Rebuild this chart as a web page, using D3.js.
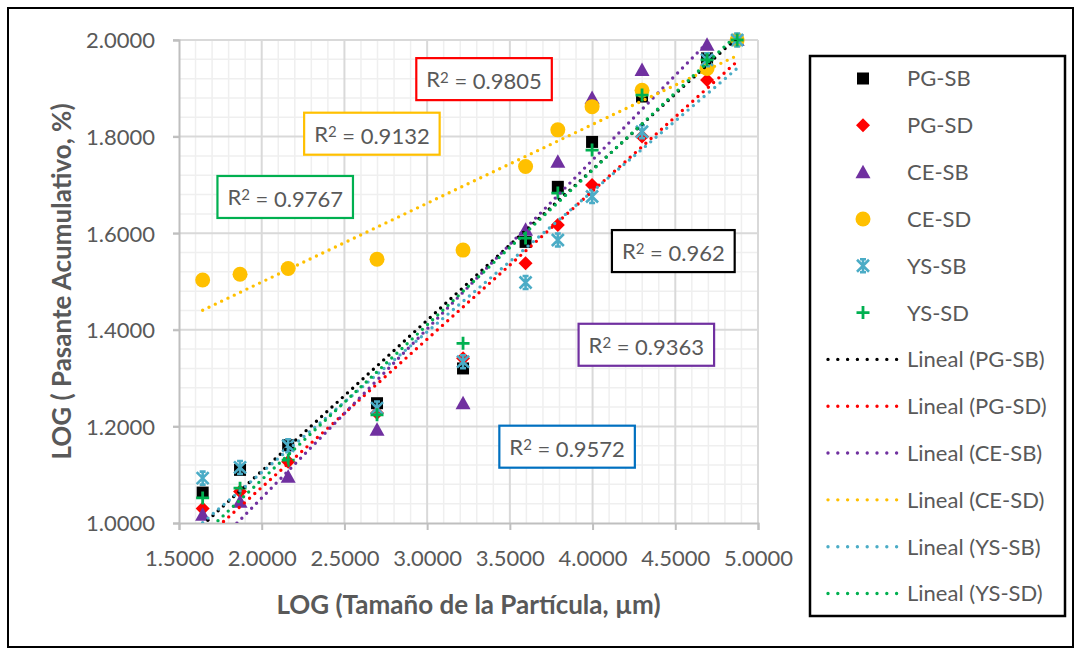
<!DOCTYPE html>
<html>
<head>
<meta charset="utf-8">
<script src="https://cdn.jsdelivr.net/npm/d3@7"></script>
<style>
  body { margin: 0; background: #fff; }
  svg { display: block; }
</style>
</head>
<body>
<div id="chart"></div>
<script>
// LOG particle size vs LOG cumulative passing, six samples + linear trendlines

const xLog = [1.643, 1.869, 2.160, 2.697, 3.217, 3.595, 3.790, 3.997, 4.299, 4.692, 4.874];

const pgSB = [1.063, 1.110, 1.161, 1.248, 1.320, 1.582, 1.696, 1.789, 1.883, 1.962, 2.000];
const pgSD = [1.030, 1.065, 1.127, 1.228, 1.341, 1.538, 1.617, 1.700, 1.800, 1.917, 2.000];
const ceSB = [1.017, 1.044, 1.096, 1.193, 1.248, 1.607, 1.748, 1.880, 1.938, 1.990, 2.000];
const ceSD = [1.503, 1.515, 1.527, 1.546, 1.565, 1.738, 1.814, 1.862, 1.896, 1.941, 2.000];
const ysSB = [1.093, 1.115, 1.160, 1.238, 1.334, 1.498, 1.586, 1.676, 1.810, 1.959, 2.000];
const ysSD = [1.052, 1.072, 1.130, 1.224, 1.372, 1.590, 1.683, 1.772, 1.886, 1.959, 2.000];

const seriesNames = ["PG-SB", "PG-SD", "CE-SB", "CE-SD", "YS-SB", "YS-SD"];
const seriesValues = [pgSB, pgSD, ceSB, ceSD, ysSB, ysSD];
const seriesColors = ["#000000", "#ff0000", "#7030a0", "#ffc000", "#4bacc6", "#00b050"];
const seriesShapes = ["square", "diamond", "triangle", "circle", "star", "plus"];

const xTicks = [1.5, 2.0, 2.5, 3.0, 3.5, 4.0, 4.5, 5.0];
const yTicks = [1.0, 1.2, 1.4, 1.6, 1.8, 2.0];

// R² labels as printed on the chart, anchored in data units
const r2Values = ["0.9805", "0.9132", "0.9767", "0.962", "0.9363", "0.9572"];
const r2Colors = ["#ff0000", "#ffc000", "#00b050", "#000000", "#7030a0", "#0070c0"];
const r2AnchorX = [3.344, 2.666, 2.142, 4.488, 4.325, 3.846];
const r2AnchorY = [1.919, 1.806, 1.675, 1.563, 1.369, 1.158];

const W = 1081, H = 655;
const margin = { left: 179, right: 323, top: 40, bottom: 132 };
const fontFam = "Lato, 'Open Sans', sans-serif";
const textGray = "#595959";

const svg = d3.select("#chart").append("svg")
    .attr("width", W)
    .attr("height", H);

svg.append("rect")
    .attr("x", 8).attr("y", 8)
    .attr("width", W - 16).attr("height", H - 16)
    .attr("fill", "#fff")
    .attr("stroke", "#000")
    .attr("stroke-width", 2);

const x = d3.scaleLinear().domain([1.5, 5.0]).range([margin.left, W - margin.right]);
const y = d3.scaleLinear().domain([1.0, 2.0]).range([H - margin.bottom, margin.top]);

// minor gridlines
const xMinor = d3.range(16, 50).map(d => d / 10).filter(d => !xTicks.some(t => Math.abs(t - d) < 1e-6));
const yMinor = d3.range(1, 25).map(d => 1 + d * 0.04).filter(d => d < 2 && !yTicks.some(t => Math.abs(t - d) < 1e-6));

const grid = svg.append("g");
grid.selectAll(".vminor").data(xMinor).join("line")
    .attr("x1", d => x(d)).attr("x2", d => x(d))
    .attr("y1", y(1)).attr("y2", y(2))
    .attr("stroke", "#efefef").attr("stroke-width", 1.5);
grid.selectAll(".hminor").data(yMinor).join("line")
    .attr("x1", x(1.5)).attr("x2", x(5))
    .attr("y1", d => y(d)).attr("y2", d => y(d))
    .attr("stroke", "#efefef").attr("stroke-width", 1.5);
grid.selectAll(".vmajor").data(xTicks.slice(1)).join("line")
    .attr("x1", d => x(d)).attr("x2", d => x(d))
    .attr("y1", y(1)).attr("y2", y(2))
    .attr("stroke", "#d9d9d9").attr("stroke-width", 2);
grid.selectAll(".hmajor").data(yTicks.slice(1)).join("line")
    .attr("x1", x(1.5) - 6).attr("x2", x(5))
    .attr("y1", d => y(d)).attr("y2", d => y(d))
    .attr("stroke", "#d9d9d9").attr("stroke-width", 2);

// axes
const xAxis = svg.append("g")
    .attr("transform", `translate(0,${y(1)})`)
    .call(d3.axisBottom(x).tickValues(xTicks).tickSize(7).tickFormat(d3.format(".4f")));
const yAxis = svg.append("g")
    .attr("transform", `translate(${x(1.5)},0)`)
    .call(d3.axisLeft(y).tickValues(yTicks).tickSize(6).tickFormat(d3.format(".4f")));

[xAxis, yAxis].forEach(a => {
    a.select(".domain").attr("stroke", "#bfbfbf").attr("stroke-width", 2);
    a.selectAll(".tick line").attr("stroke", "#bfbfbf").attr("stroke-width", 2);
    a.selectAll(".tick text")
        .attr("font-family", fontFam)
        .attr("font-size", "22px")
        .attr("fill", textGray);
});
xAxis.selectAll(".tick text").attr("y", 0).attr("dy", "43px");
yAxis.selectAll(".tick text").attr("x", -24).attr("dy", "0.36em");

svg.append("text")
    .attr("x", x(3.25))
    .attr("y", 614)
    .attr("text-anchor", "middle")
    .attr("font-family", fontFam)
    .attr("font-weight", "bold")
    .attr("font-size", "26px")
    .attr("fill", textGray)
    .text("LOG (Tamaño de la Partícula, µm)");

svg.append("text")
    .attr("transform", `translate(71,${y(1.5)}) rotate(-90)`)
    .attr("text-anchor", "middle")
    .attr("font-family", fontFam)
    .attr("font-weight", "bold")
    .attr("font-size", "26px")
    .attr("fill", textGray)
    .text("LOG ( Pasante Acumulativo, %)");

// marker drawing
function drawMarker(g, shape, color) {
    if (shape === "square") {
        g.append("rect").attr("x", -6).attr("y", -6).attr("width", 12).attr("height", 12).attr("fill", color);
    } else if (shape === "diamond") {
        g.append("path").attr("d", "M0,-7L7,0L0,7L-7,0Z").attr("fill", color);
    } else if (shape === "triangle") {
        g.append("path").attr("d", "M0,-7.5L7.5,6L-7.5,6Z").attr("fill", color);
    } else if (shape === "circle") {
        g.append("circle").attr("r", 7.5).attr("fill", color);
    } else if (shape === "star") {
        g.append("path").attr("d", "M-6,-6L6,6M6,-6L-6,6M0,-7L0,7M-3,-6.5L3,-6.5M-3,6.5L3,6.5")
            .attr("stroke", color).attr("stroke-width", 2.6).attr("fill", "none");
    } else if (shape === "plus") {
        g.append("path").attr("d", "M-6.5,0L6.5,0M0,-6.5L0,6.5")
            .attr("stroke", color).attr("stroke-width", 2.8).attr("fill", "none");
    }
}

svg.append("clipPath").attr("id", "plotClip")
    .append("rect")
    .attr("x", x(1.5)).attr("y", y(2))
    .attr("width", x(5) - x(1.5)).attr("height", y(1) - y(2));

// markers
const markerLayer = svg.append("g");
seriesValues.forEach((vals, i) => {
    vals.forEach((v, j) => {
        const g = markerLayer.append("g").attr("transform", `translate(${x(xLog[j])},${y(v)})`);
        drawMarker(g, seriesShapes[i], seriesColors[i]);
    });
});

// linear trendlines (least squares)
function linFit(xs, ys) {
    const mx = d3.mean(xs), my = d3.mean(ys);
    let sxy = 0, sxx = 0;
    xs.forEach((xv, k) => { sxy += (xv - mx) * (ys[k] - my); sxx += (xv - mx) * (xv - mx); });
    const b = sxy / sxx;
    return { b: b, a: my - b * mx };
}

const trendLayer = svg.append("g").attr("clip-path", "url(#plotClip)");
const xEnds = d3.extent(xLog);
seriesValues.forEach((vals, i) => {
    const fit = linFit(xLog, vals);
    trendLayer.append("line")
        .attr("x1", x(xEnds[0])).attr("y1", y(fit.a + fit.b * xEnds[0]))
        .attr("x2", x(xEnds[1])).attr("y2", y(fit.a + fit.b * xEnds[1]))
        .attr("stroke", seriesColors[i])
        .attr("stroke-width", 3.4)
        .attr("stroke-linecap", "round")
        .attr("stroke-dasharray", "0 7");
});

// R² labels
r2Values.forEach((t, i) => {
    const g = svg.append("g").attr("transform", `translate(${x(r2AnchorX[i])},${y(r2AnchorY[i])})`);
    const rect = g.append("rect").attr("fill", "#fff").attr("stroke", r2Colors[i]).attr("stroke-width", 2.2);
    const txt = g.append("text")
        .attr("text-anchor", "middle")
        .attr("dy", "0.36em")
        .attr("font-family", fontFam)
        .attr("font-size", "22px")
        .attr("fill", textGray);
    txt.append("tspan").text("R");
    txt.append("tspan").attr("dy", "-0.3em").attr("font-size", "15px").text("2");
    txt.append("tspan").attr("dy", "0.3em").text(" = " + t);
    const bb = txt.node().getBBox();
    const w = bb.width + 20, h = 42;
    rect.attr("x", -w / 2).attr("y", -h / 2).attr("width", w).attr("height", h);
});

// legend
const legendNames = seriesNames.concat(seriesNames.map(n => `Lineal (${n})`));
const legend = svg.append("g");
legend.append("rect")
    .attr("x", 810).attr("y", 56)
    .attr("width", 255).attr("height", 560)
    .attr("fill", "#fff")
    .attr("stroke", "#000")
    .attr("stroke-width", 2.5);

const ly = d3.scalePoint().domain(d3.range(legendNames.length)).range([78.5, 593.5]);
legendNames.forEach((name, k) => {
    const i = k % 6;
    const cy = ly(k);
    if (k < 6) {
        const g = legend.append("g").attr("transform", `translate(863,${cy})`);
        drawMarker(g, seriesShapes[i], seriesColors[i]);
    } else {
        legend.append("line")
            .attr("x1", 828).attr("x2", 897)
            .attr("y1", cy).attr("y2", cy)
            .attr("stroke", seriesColors[i])
            .attr("stroke-width", 3.4)
            .attr("stroke-linecap", "round")
            .attr("stroke-dasharray", "0 9.8");
    }
    legend.append("text")
        .attr("x", 907)
        .attr("y", cy)
        .attr("dy", "0.36em")
        .attr("font-family", fontFam)
        .attr("font-size", "22px")
        .attr("fill", textGray)
        .text(name);
});
</script>
</body>
</html>
